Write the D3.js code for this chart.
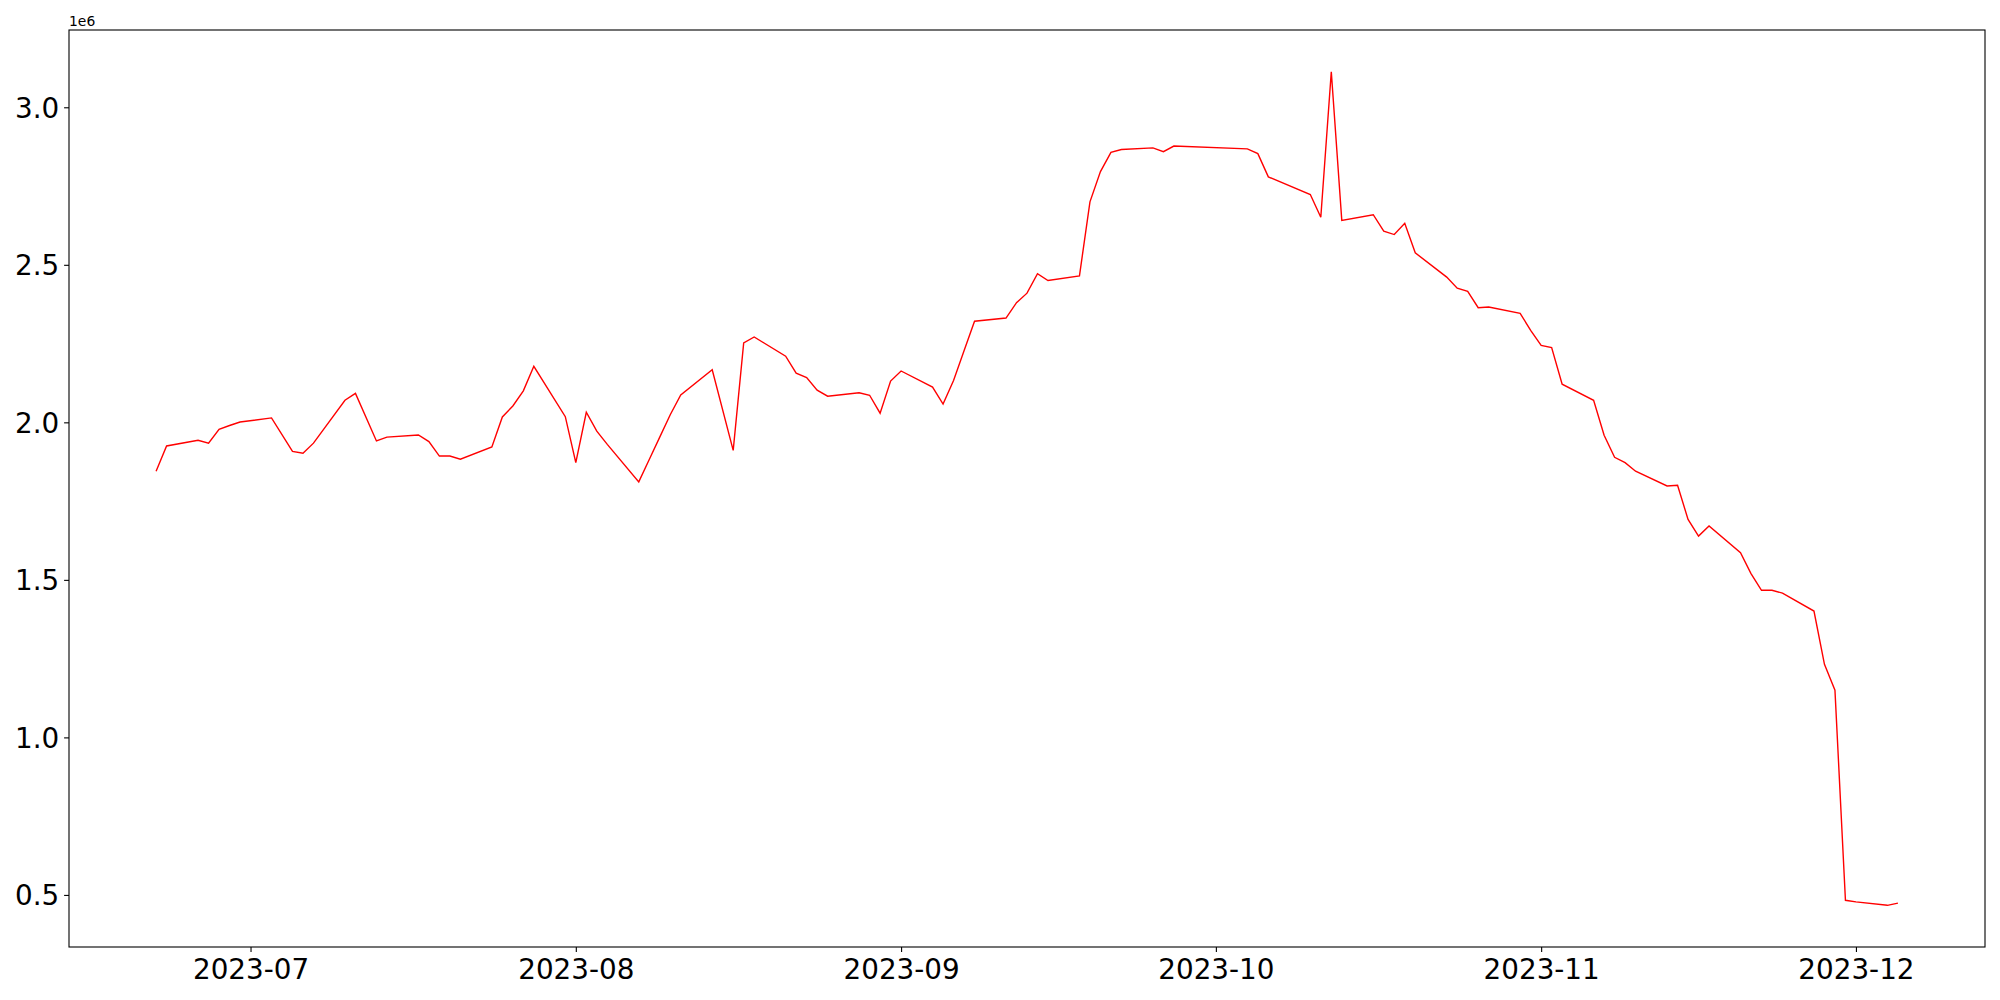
<!DOCTYPE html>
<html>
<head>
<meta charset="utf-8">
<script src="https://cdn.jsdelivr.net/npm/d3@7"></script>
<style>
  body { margin: 0; background: #fff; }
  svg { display: block; font-family: "DejaVu Sans", sans-serif; }
</style>
</head>
<body>
<div class="canvas"></div>
<script>
// Data
const dates = [
  "2023-06-22","2023-06-23","2023-06-26","2023-06-27","2023-06-28","2023-06-29","2023-06-30",
  "2023-07-03","2023-07-05","2023-07-06","2023-07-07","2023-07-10","2023-07-11","2023-07-13",
  "2023-07-14","2023-07-17","2023-07-18","2023-07-19","2023-07-20","2023-07-21","2023-07-24",
  "2023-07-25","2023-07-26","2023-07-27","2023-07-28","2023-07-31","2023-08-01","2023-08-02",
  "2023-08-03","2023-08-04","2023-08-07","2023-08-08","2023-08-09","2023-08-10","2023-08-11",
  "2023-08-14","2023-08-16","2023-08-17","2023-08-18","2023-08-21","2023-08-22","2023-08-23",
  "2023-08-24","2023-08-25","2023-08-28","2023-08-29","2023-08-30","2023-08-31","2023-09-01",
  "2023-09-04","2023-09-05","2023-09-06","2023-09-07","2023-09-08","2023-09-11","2023-09-12",
  "2023-09-13","2023-09-14","2023-09-15","2023-09-18","2023-09-19","2023-09-20","2023-09-21",
  "2023-09-22","2023-09-25","2023-09-26","2023-09-27","2023-10-04","2023-10-05","2023-10-06",
  "2023-10-10","2023-10-11","2023-10-12","2023-10-13","2023-10-16","2023-10-17","2023-10-18",
  "2023-10-19","2023-10-20","2023-10-23","2023-10-24","2023-10-25","2023-10-26","2023-10-27",
  "2023-10-30","2023-10-31","2023-11-01","2023-11-02","2023-11-03","2023-11-06","2023-11-07",
  "2023-11-08","2023-11-09","2023-11-10","2023-11-13","2023-11-14","2023-11-15","2023-11-16",
  "2023-11-17","2023-11-20","2023-11-21","2023-11-22","2023-11-23","2023-11-24","2023-11-27",
  "2023-11-28","2023-11-29","2023-11-30","2023-12-01","2023-12-04","2023-12-05"
];
const values = [
  1845000,1925000,1943000,1934000,1978000,1990000,2001000,
  2014000,1908000,1902000,1934000,2070000,2092000,1941000,
  1953000,1960000,1939000,1893000,1893000,1883000,1922000,
  2017000,2052000,2100000,2178000,2018000,1872000,2032000,
  1972000,1930000,1811000,1882000,1953000,2024000,2087000,
  2167000,1911000,2252000,2271000,2210000,2156000,2142000,
  2102000,2083000,2094000,2086000,2029000,2131000,2163000,
  2112000,2058000,2133000,2227000,2321000,2331000,2380000,
  2410000,2472000,2450000,2465000,2700000,2796000,2857000,
  2866000,2871000,2859000,2877000,2868000,2853000,2779000,
  2723000,2651000,3113000,2641000,2659000,2607000,2596000,
  2632000,2538000,2461000,2426000,2416000,2364000,2366000,
  2346000,2292000,2244000,2237000,2121000,2070000,1959000,
  1889000,1872000,1845000,1798000,1800000,1692000,1639000,
  1671000,1586000,1520000,1467000,1467000,1458000,1401000,
  1232000,1150000,483000,478000,467000,474000
];
const yTicks = [500000, 1000000, 1500000, 2000000, 2500000, 3000000];

// Variables
const width = 2000, height = 1000;
const margin = { top: 30, right: 15, bottom: 53, left: 69 };
const graphWidth = width - margin.left - margin.right;
const graphHeight = height - margin.top - margin.bottom;

const parse = d3.utcParse("%Y-%m-%d");
const data = dates.map((d, i) => ({ date: parse(d), value: values[i] }));

const svg = d3.select('.canvas')
    .append('svg')
    .attr('width', width)
    .attr('height', height);

svg.append('rect').attr('width', width).attr('height', height).attr('fill', '#fff');

const graph = svg.append('g')
    .attr('transform', `translate(${margin.left},${margin.top})`);

// matplotlib style 5% padding on both axes
const xExt = d3.extent(data, d => d.date);
const xPad = (xExt[1] - xExt[0]) * 0.05;
const x = d3.scaleUtc()
    .domain([new Date(+xExt[0] - xPad), new Date(+xExt[1] + xPad)])
    .range([0, graphWidth]);

const yExt = d3.extent(data, d => d.value);
const yPad = (yExt[1] - yExt[0]) * 0.05;
const y = d3.scaleLinear()
    .domain([yExt[0] - yPad, yExt[1] + yPad])
    .range([graphHeight, 0]);

// Axes
const xAxis = d3.axisBottom(x)
    .ticks(d3.utcMonth.every(1))
    .tickFormat(d3.utcFormat("%Y-%m"))
    .tickSize(4.9)
    .tickPadding(4.9);

const yAxis = d3.axisLeft(y)
    .tickValues(yTicks)
    .tickFormat(d => (d / 1e6).toFixed(1))
    .tickSize(4.9)
    .tickPadding(4.9);

const gx = graph.append('g')
    .attr('transform', `translate(0,${graphHeight})`)
    .call(xAxis);
const gy = graph.append('g').call(yAxis);

[gx, gy].forEach(g => {
    g.select('.domain').remove();
    g.selectAll('.tick line').attr('stroke', '#000').attr('stroke-width', 1.1);
    g.selectAll('.tick text')
        .attr('fill', '#000')
        .style('font-family', '"DejaVu Sans", sans-serif')
        .style('font-size', '27.8px');
});
gx.selectAll('.tick text').attr('dy', '0.8em');
gy.selectAll('.tick text').attr('dy', '0.36em');

// Line
const line = d3.line()
    .x(d => x(d.date))
    .y(d => y(d.value));

graph.append('path')
    .datum(data)
    .attr('fill', 'none')
    .attr('stroke', 'red')
    .attr('stroke-width', 1.4)
    .attr('stroke-linejoin', 'miter')
    .attr('d', line);

// Frame
graph.append('rect')
    .attr('width', graphWidth)
    .attr('height', graphHeight)
    .attr('fill', 'none')
    .attr('stroke', '#000')
    .attr('stroke-width', 1.1);

// Offset text
graph.append('text')
    .attr('x', 0)
    .attr('y', -4)
    .style('font-size', '13.9px')
    .attr('fill', '#000')
    .text('1e6');
</script>
</body>
</html>
